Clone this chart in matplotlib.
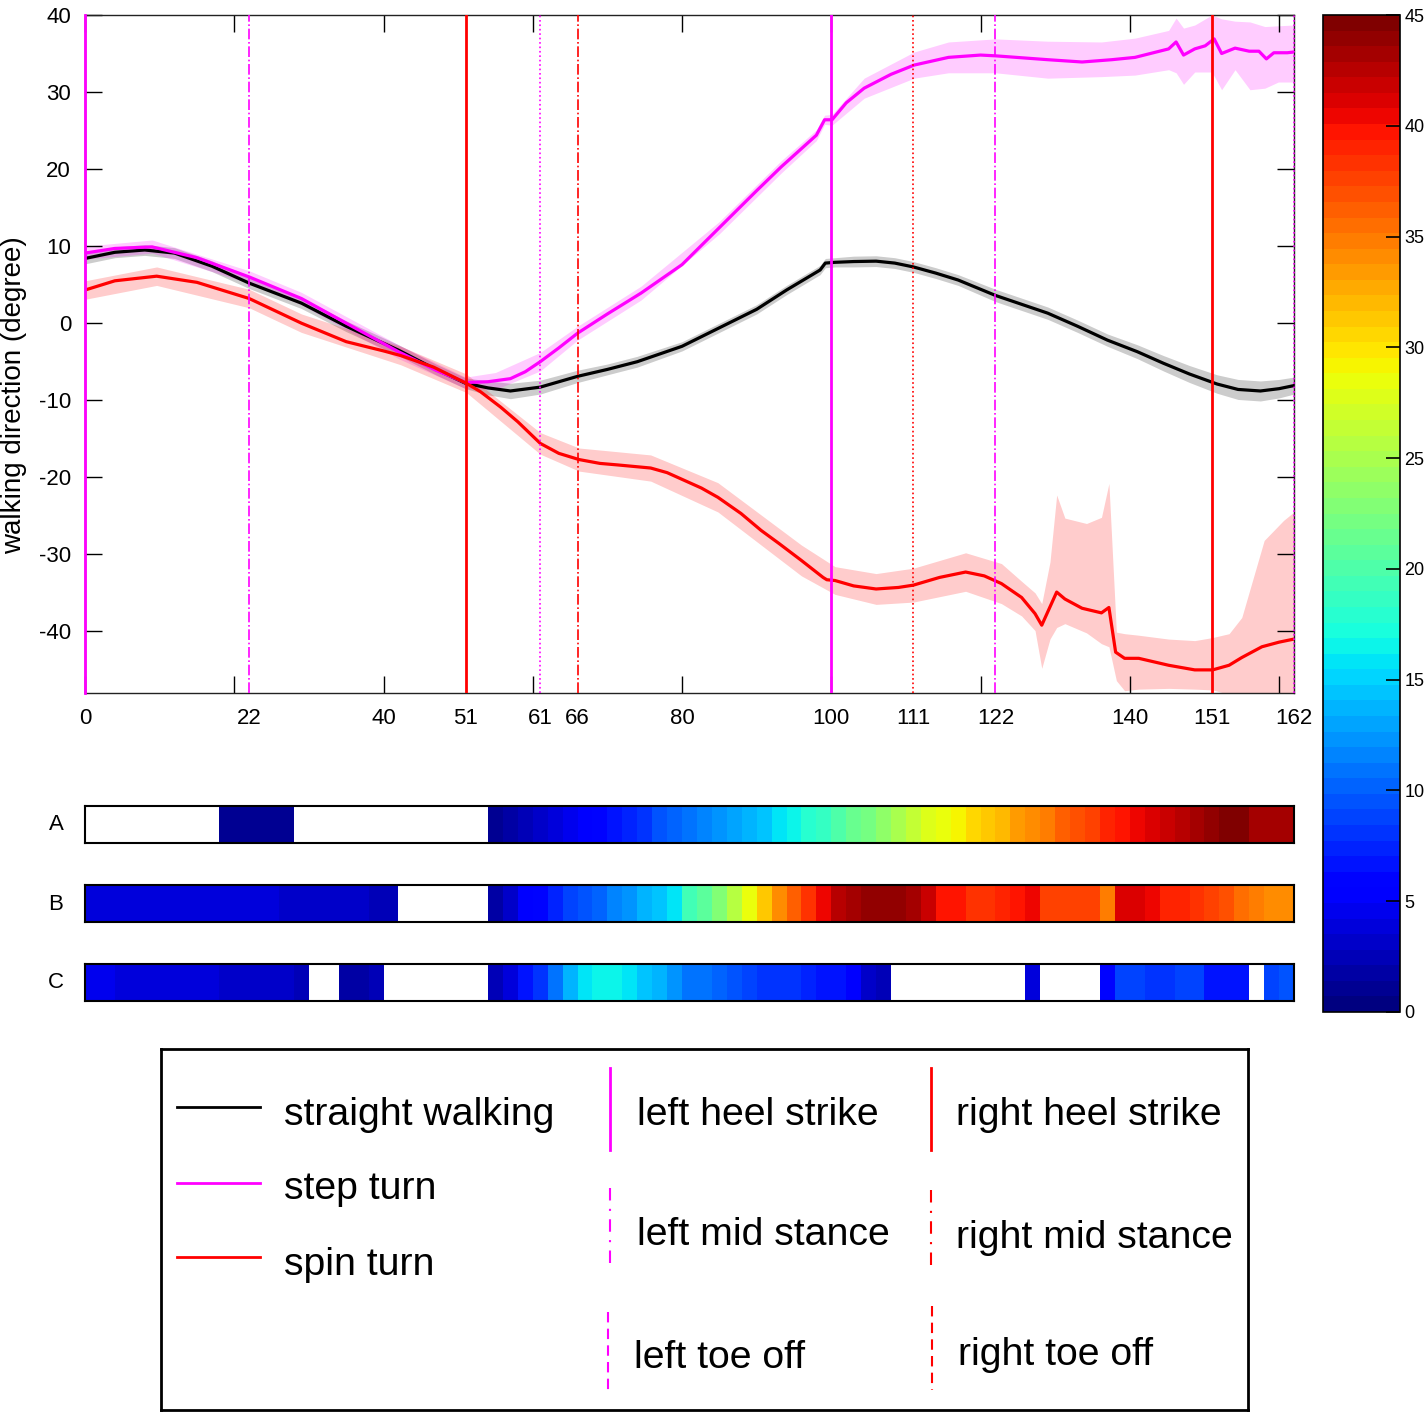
import numpy as np
import matplotlib
matplotlib.use('Agg')
import matplotlib.pyplot as plt
from matplotlib.colors import Normalize
import matplotlib.colorbar as mcolorbar

plt.rcParams['font.family'] = ['Liberation Sans', 'DejaVu Sans']
plt.rcParams['axes.unicode_minus'] = False

# ---------------- data ----------------
x_straight = [0, 4, 8, 12, 17, 22, 29, 35, 42, 47, 51, 54, 57, 61, 66, 70, 74, 80, 85, 90,
              94, 98.5, 99.2, 100.5, 103, 106, 108.5, 111, 114, 117, 122, 129, 133, 137, 141,
              144.5, 148, 151.7, 154.5, 157.5, 160, 162]
y_straight = [8.4, 9.2, 9.5, 9.1, 7.4, 5.2, 2.6, -0.4, -3.5, -6.0, -7.8, -8.4, -8.8, -8.3,
              -6.9, -6.0, -5.0, -3.0, -0.6, 1.8, 4.3, 6.9, 7.8, 7.9, 8.0, 8.05, 7.8, 7.3, 6.5,
              5.6, 3.6, 1.3, -0.4, -2.2, -3.7, -5.2, -6.6, -7.9, -8.6, -8.8, -8.5, -8.1]
sd_straight = [0.7, 0.7, 0.7, 0.7, 0.7, 0.7, 0.7, 0.7, 0.7, 0.7, 0.7, 0.9, 1.0, 0.9, 0.8,
               0.7, 0.7, 0.6, 0.6, 0.6, 0.6, 0.6, 0.6, 0.6, 0.7, 0.7, 0.7, 0.7, 0.7, 0.7,
               0.8, 0.8, 0.8, 0.8, 0.9, 1.0, 1.1, 1.2, 1.3, 1.3, 1.2, 1.1]

x_step = [0, 4, 9, 15, 22, 29, 35, 42, 47, 51, 54, 57, 59, 61, 63.5, 66, 70, 74.5, 80, 85, 90,
          93.3, 98, 99.1, 100.1, 102, 104.4, 108, 111.1, 115.7, 120, 122, 129, 133.6, 137.6,
          140.7, 145.2, 146.2, 147.2, 148.7, 150.1, 151.3, 152.3, 154.1, 156, 157.3, 158.3,
          159.3, 161.1, 162]
y_step = [9.1, 9.7, 9.9, 8.5, 6.0, 3.2, 0.0, -3.7, -6.1, -7.7, -7.6, -7.2, -6.3, -5.0, -3.2,
          -1.3, 1.2, 3.9, 7.6, 12.4, 17.2, 20.3, 24.4, 26.4, 26.4, 28.6, 30.5, 32.3, 33.5, 34.5,
          34.8, 34.7, 34.2, 33.9, 34.2, 34.5, 35.6, 36.5, 34.8, 35.6, 36.0, 36.9, 35.0, 35.7,
          35.3, 35.3, 34.3, 35.1, 35.1, 35.2]
xb_step = [0, 9, 22, 29, 42, 51, 55, 61, 66, 74.5, 85, 93.3, 98, 99.1, 100.1, 104.4, 111.1,
           115.7, 122, 129, 136.2, 140.7, 145.2, 146.2, 147.2, 148.7, 151.0, 152.3, 154.1,
           156.1, 158.1, 159.9, 162]
lo_step = [8.3, 9.1, 5.2, 2.4, -4.6, -8.5, -8.6, -6.2, -2.2, 3.0, 11.6, 19.5, 23.7, 25.8,
           25.7, 29.2, 31.8, 32.5, 32.5, 31.8, 32.0, 32.2, 32.9, 32.5, 31.0, 32.6, 32.6, 30.3,
           32.9, 30.3, 30.5, 31.3, 31.3]
hi_step = [10.0, 10.8, 6.8, 4.0, -2.8, -7.0, -6.4, -3.8, -0.4, 4.8, 13.2, 21.1, 25.1, 27.0,
           27.1, 31.8, 35.2, 36.5, 36.9, 36.6, 36.5, 37.0, 38.0, 39.6, 38.3, 38.7, 40.0, 39.5,
           39.2, 39.1, 38.5, 38.6, 38.7]

x_spin = [0, 4, 9.6, 15, 22, 29, 35, 40, 42.3, 46.7, 51.1, 53, 55.7, 58, 61, 63.5, 66.2, 69,
          71.4, 75.8, 78, 80.3, 82.6, 84.8, 87.9, 90.6, 93, 96, 98.9, 99.4, 100.5, 103, 106,
          109, 111, 114.5, 118, 120.5, 122.8, 125.5, 127.3, 128.2, 130.2, 131.3, 133.6, 136.2,
          137.2, 138.1, 139.3, 141.2, 145.2, 148.7, 151.1, 153.3, 155, 157.7, 160, 162]
y_spin = [4.3, 5.5, 6.1, 5.3, 3.2, 0.0, -2.4, -3.6, -4.2, -5.7, -7.8, -8.9, -10.9, -12.8,
          -15.6, -16.9, -17.7, -18.2, -18.4, -18.8, -19.4, -20.4, -21.4, -22.6, -24.7, -26.9,
          -28.6, -30.8, -33.0, -33.3, -33.4, -34.1, -34.5, -34.3, -34.0, -33.0, -32.3, -32.8,
          -33.8, -35.6, -37.7, -39.2, -34.9, -35.8, -37.0, -37.6, -36.9, -42.7, -43.5, -43.5,
          -44.4, -45.0, -45.0, -44.4, -43.4, -42.0, -41.4, -41.0]
xb_spin = [0, 9.6, 22, 29, 42.3, 51.1, 61, 66.2, 75.8, 84.8, 96, 100.5, 106, 111, 118, 122.8,
           125.5, 127.3, 128.2, 129.3, 130.2, 131.3, 134.2, 136.2, 137.2, 138.2, 139.3, 141.2,
           145.2, 148.7, 151.1, 153.3, 155, 158, 160.6, 162]
lo_spin = [3.1, 4.9, 2.0, -1.2, -5.4, -9.0, -17.0, -19.2, -20.5, -24.5, -32.8, -35.2, -36.5,
           -36.2, -34.8, -36.4, -38.0, -39.9, -44.8, -41.0, -39.5, -39.0, -40.2, -41.6, -42.0,
           -46.4, -47.7, -47.5, -47.4, -47.5, -47.6, -48.2, -49.0, -50.0, -50.0, -50.0]
hi_spin = [5.5, 7.3, 4.4, 1.2, -3.0, -6.6, -14.2, -16.2, -17.1, -20.7, -28.8, -31.6, -32.5,
           -31.8, -29.8, -31.2, -33.5, -35.0, -36.4, -31.0, -22.3, -25.3, -26.0, -25.2, -20.8,
           -40.1, -40.3, -40.5, -41.0, -41.2, -40.8, -40.3, -38.2, -28.2, -25.6, -24.5]

event_x = [0, 22, 51, 61, 66, 100, 111, 122, 151, 162]
event_kind = ['L', 'L', 'R', 'L', 'R', 'L', 'R', 'L', 'R', 'L']
event_style = ['solid', 'dashdot', 'solid', 'dotted', 'dashdot', 'solid', 'dotted', 'dashdot',
               'solid', 'dotted']

xtick_labels = [0, 22, 40, 51, 61, 66, 80, 100, 111, 122, 140, 151, 162]

nan = np.nan
# heat rows, one value per 2-frame cell (0..162)
row_A = [nan] * 9 + [1.0, 1.0, 0.8, 0.8, 1.0] + [nan] * 13 + [
    1.0, 1.8, 2.6, 3.3, 4.0, 4.7, 5.2, 5.9, 6.8, 7.6,
    8.4, 9.3, 10.1, 10.9, 11.6, 12.4, 13.1, 13.9, 14.7, 15.6,
    16.5, 17.6, 18.8, 20.0, 21.2, 22.4, 23.7, 25.0, 26.3, 27.6,
    28.6, 29.5, 30.5, 31.4, 32.3, 33.3, 34.2, 35.1, 36.0, 36.9,
    37.8, 38.7, 39.5, 40.3, 41.0, 41.7, 42.4, 43.1, 43.9, 44.6,
    45.0, 43.5, 43.0, 43.0]
row_B = [4.2, 4.2, 4.0, 4.0, 4.0, 3.8, 3.8, 3.8, 3.6, 3.6, 3.6, 3.6, 3.6, 3.5, 3.5, 3.4, 3.4,
         3.3, 3.0, 2.6, 2.4] + [nan] * 6 + [
    1.8, 3.0, 5.0, 6.0, 7.5, 8.5, 9.5, 10.5, 11.5, 12.5,
    13.5, 14.5, 16.0, 19.0, 21.0, 23.0, 25.5, 28.5, 31.0, 34.0,
    36.0, 38.5, 40.5, 42.5, 43.5, 44.0, 44.0, 44.0, 43.0, 41.5,
    40.0, 39.5, 38.5, 38.5, 39.0, 39.5, 40.5, 37.5, 37.5, 37.5,
    37.5, 35.0, 41.0, 41.0, 40.5, 39.0, 39.0, 38.5, 37.5, 37.0,
    35.5, 35.0, 34.0, 34.0]
row_C = [4.3, 4.3, 4.2, 3.9, 3.8, 3.8, 3.6, 3.6, 3.6, 3.5, 3.2, 3.2, 3.1, 3.1, 2.5, nan, nan,
         1.8, 1.8, 2.3, nan, nan, nan, nan, nan, nan, nan,
         2.8, 4.0, 6.5, 7.8, 11.0, 14.0, 15.5, 16.3, 16.3, 15.5, 14.5, 13.5, 12.5, 11.2, 11.0,
         10.5, 9.5, 8.5, 8.3, 8.3, 8.2, 7.5, 6.8, 6.5, 5.0, 3.5, 2.5] + [nan] * 9 + [
    4.0, nan, nan, nan, nan, 5.8, 8.5, 8.5, 8.0, 8.0, 9.0, 9.0, 7.0, 7.0, 7.0, nan, 8.5, 9.5]
row_names = ['A', 'B', 'C']
cbar_ticks = [0, 5, 10, 15, 20, 25, 30, 35, 40, 45]

# ---------------- figure ----------------
W, H = 1427, 1412
fig = plt.figure(figsize=(W / 100, H / 100), dpi=100)

MAG = '#FF00FF'
RED = '#FF0000'
BLK = '#000000'

ax = fig.add_axes([85 / W, 1 - 693 / H, 1209 / W, 678 / H])
xs = np.array(x_straight); ys = np.array(y_straight); ss = np.array(sd_straight)
ax.fill_between(xs, ys - ss, ys + ss, color=BLK, alpha=0.2, lw=0)
ax.fill_between(xb_step, lo_step, hi_step, color=MAG, alpha=0.2, lw=0)
ax.fill_between(xb_spin, lo_spin, hi_spin, color=RED, alpha=0.2, lw=0)
ax.plot(xs, ys, color=BLK, lw=2.3, zorder=3, solid_joinstyle='round')
ax.plot(x_step, y_step, color=MAG, lw=2.3, zorder=3, solid_joinstyle='round')
ax.plot(x_spin, y_spin, color=RED, lw=2.3, zorder=3, solid_joinstyle='round')

for ex, ek, es in zip(event_x, event_kind, event_style):
    c = MAG if ek == 'L' else RED
    lw = 2.0 if es == 'solid' else 1.2
    ax.axvline(ex, color=c, ls=es, lw=lw, zorder=4, clip_on=(0 < ex < 162))

ax.set_xlim(0, 162)
ax.set_ylim(-48, 40)
ax.set_yticks(range(-40, 41, 10))
ax.tick_params(axis='y', direction='in', length=12, width=1.0, left=True, right=True,
               labelsize=16, pad=10)
ax.set_xticks(range(0, 161, 20))
ax.set_xticklabels([''] * 9)
ax.set_xticks(xtick_labels, [str(v) for v in xtick_labels], minor=True)
ax.xaxis.remove_overlapping_locs = False
ax.tick_params(axis='x', which='major', direction='in', length=12, width=1.0, top=True,
               bottom=True)
ax.tick_params(axis='x', which='minor', length=0, labelsize=16, pad=11)
ax.set_ylabel('walking direction (degree)', fontsize=20)
ax.yaxis.set_label_coords((27 - 85) / 1209, 0.44)
for sp in ax.spines.values():
    sp.set_linewidth(1.0)
    sp.set_color('#222222')

# ---------------- heat bars ----------------
cmap = plt.get_cmap('jet', 64).copy()
cmap.set_bad('white')
norm = Normalize(0, 45)
edges = np.arange(0, 163, 2)
bar_tops = [806, 885, 964]
for name, row, top in zip(row_names, [row_A, row_B, row_C], bar_tops):
    bax = fig.add_axes([85 / W, 1 - (top + 37) / H, 1209 / W, 37 / H])
    data = np.ma.masked_invalid(np.array([row], dtype=float))
    bax.pcolormesh(edges, [0, 1], data, cmap=cmap, norm=norm)
    bax.set_xlim(0, 162)
    bax.set_ylim(0, 1)
    bax.set_xticks([])
    bax.set_yticks([])
    for sp in bax.spines.values():
        sp.set_linewidth(1.5)
    fig.text(56 / W, 1 - (top + 19) / H, name, fontsize=16, ha='center', va='center')

# ---------------- colorbar ----------------
cax = fig.add_axes([1323 / W, 1 - 1012 / H, 77 / W, 997 / H])
cb = mcolorbar.ColorbarBase(cax, cmap=plt.get_cmap('jet', 64), norm=norm,
                            orientation='vertical', ticks=cbar_ticks)
cb.outline.set_linewidth(1.2)
cax.tick_params(direction='in', length=10, width=1.2, labelsize=13, pad=3, right=True)

# ---------------- legend ----------------
lax = fig.add_axes([161 / W, 1 - 1410 / H, 1087 / W, 361 / H])
lax.set_xlim(161, 1248)
lax.set_ylim(1410, 1049)
lax.set_xticks([])
lax.set_yticks([])
for sp in lax.spines.values():
    sp.set_linewidth(2.0)
fs = 28.3
lax.plot([177, 260], [1107, 1107], color=BLK, lw=2)
lax.plot([177, 260], [1183, 1183], color=MAG, lw=2)
lax.plot([177, 260], [1257, 1257], color=RED, lw=2)
lax.text(284, 1115, 'straight walking', fontsize=fs, va='center')
lax.text(284, 1189, 'step turn', fontsize=fs, va='center')
lax.text(284, 1265, 'spin turn', fontsize=fs, va='center')
lax.plot([610, 610], [1068, 1150], color=MAG, lw=2)
lax.plot([610, 610], [1188, 1270], color=MAG, lw=1.5, ls=(0, (6, 4, 1, 4)))
lax.plot([608, 608], [1312, 1393], color=MAG, lw=1.5, ls=(0, (5, 3)))
lax.text(637, 1115, 'left heel strike', fontsize=fs, va='center')
lax.text(637, 1235, 'left mid stance', fontsize=fs, va='center')
lax.text(634, 1358, 'left toe off', fontsize=fs, va='center')
lax.plot([931, 931], [1068, 1150], color=RED, lw=2)
lax.plot([931, 931], [1190, 1272], color=RED, lw=1.5, ls=(0, (6, 4, 1, 4)))
lax.plot([932, 932], [1306, 1390], color=RED, lw=1.5, ls=(0, (5, 3)))
lax.text(956, 1115, 'right heel strike', fontsize=fs, va='center')
lax.text(956, 1238, 'right mid stance', fontsize=fs, va='center')
lax.text(958, 1355, 'right toe off', fontsize=fs, va='center')

fig.savefig('out.png', dpi=100)
